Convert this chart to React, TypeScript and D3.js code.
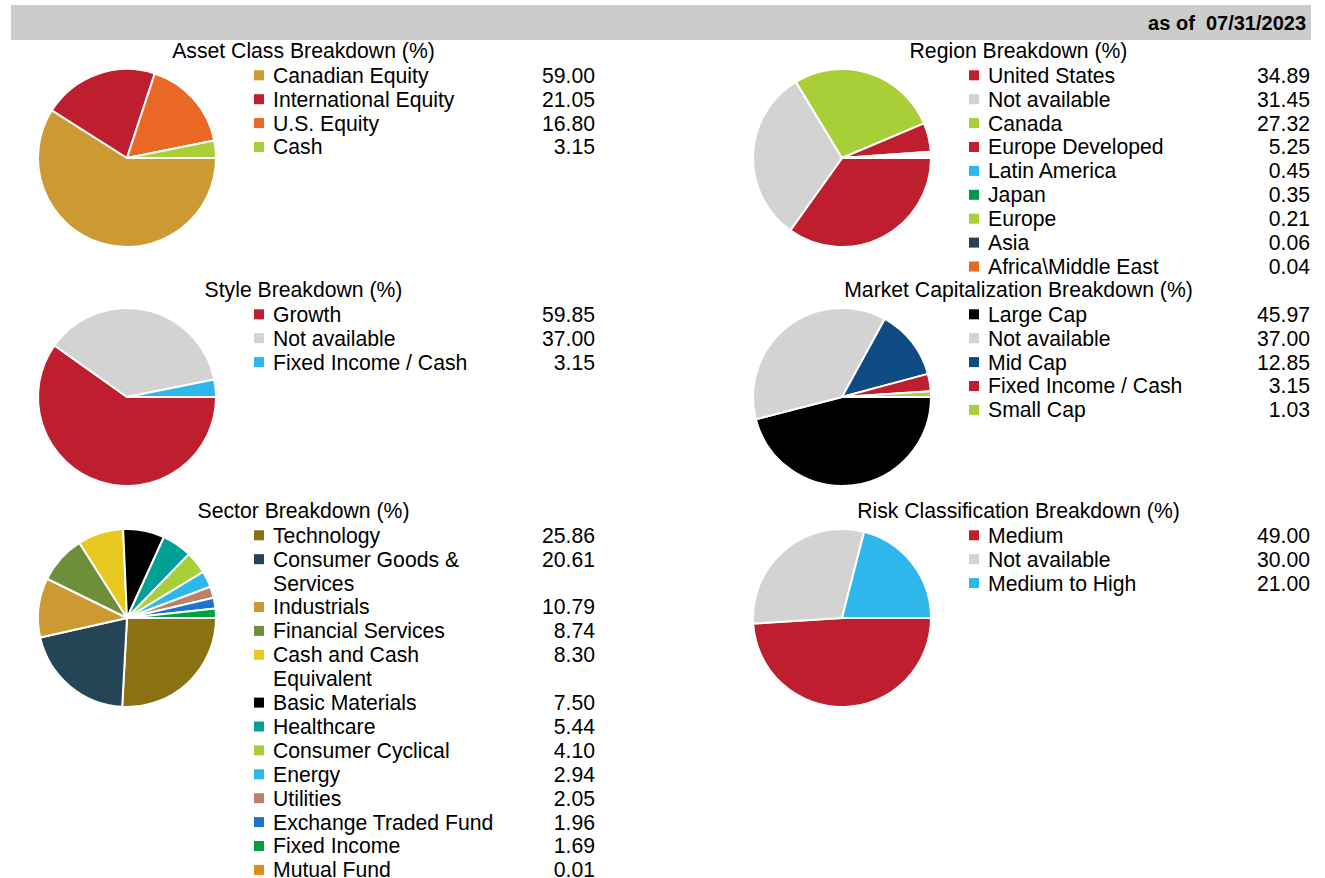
import React from "react";
import * as d3 from "d3";

// ---- data ----
const asOfDate = "07/31/2023";

const assetLabels = ["Canadian Equity", "International Equity", "U.S. Equity", "Cash"];
const assetValues = [59.0, 21.05, 16.8, 3.15];
const assetColors = ["#cc9933", "#be1e2d", "#e86824", "#a9cf38"];

const regionLabels = [
  "United States",
  "Not available",
  "Canada",
  "Europe Developed",
  "Latin America",
  "Japan",
  "Europe",
  "Asia",
  "Africa\\Middle East",
];
const regionValues = [34.89, 31.45, 27.32, 5.25, 0.45, 0.35, 0.21, 0.06, 0.04];
const regionColors = ["#be1e2d", "#d3d3d3", "#a9cf38", "#be1e2d", "#2db7ea", "#009a3e", "#a9cf38", "#22445a", "#e86824"];

const styleLabels = ["Growth", "Not available", "Fixed Income / Cash"];
const styleValues = [59.85, 37.0, 3.15];
const styleColors = ["#be1e2d", "#d3d3d3", "#2db7ea"];

const capLabels = ["Large Cap", "Not available", "Mid Cap", "Fixed Income / Cash", "Small Cap"];
const capValues = [45.97, 37.0, 12.85, 3.15, 1.03];
const capColors = ["#000000", "#d3d3d3", "#104a85", "#be1e2d", "#a9cf38"];

const sectorLabels = [
  "Technology",
  "Consumer Goods & Services",
  "Industrials",
  "Financial Services",
  "Cash and Cash Equivalent",
  "Basic Materials",
  "Healthcare",
  "Consumer Cyclical",
  "Energy",
  "Utilities",
  "Exchange Traded Fund",
  "Fixed Income",
  "Mutual Fund",
];
const sectorValues = [25.86, 20.61, 10.79, 8.74, 8.3, 7.5, 5.44, 4.1, 2.94, 2.05, 1.96, 1.69, 0.01];
const sectorColors = [
  "#8a7212", "#234556", "#cc9933", "#6e8f3a", "#e8c920", "#000000",
  "#00a096", "#a9cf38", "#2db7ea", "#bc8068", "#1874cd", "#00a03c", "#d9901a",
];

const riskLabels = ["Medium", "Not available", "Medium to High"];
const riskValues = [49.0, 30.0, 21.0];
const riskColors = ["#be1e2d", "#d3d3d3", "#2db7ea"];

// ---- layout ----
const W = 1325;
const H = 878;
const FONT = "Liberation Sans, Arial, sans-serif";
const FS = 21.2;
const LINE = 23.9;
const radius = 89;
const panelW = 585;
const wrapWidth = 235;

let ctx: CanvasRenderingContext2D | null = null;
const measure = (s: string) => {
  if (!ctx) {
    ctx = document.createElement("canvas").getContext("2d");
    if (ctx) ctx.font = `${FS}px Liberation Sans`;
  }
  return ctx ? ctx.measureText(s).width : s.length * 11;
};

const wrap = (label: string) => {
  const words = label.split(" ");
  const lines: string[] = [];
  let cur = "";
  words.forEach(w => {
    const t = cur ? cur + " " + w : w;
    if (cur && measure(t) > wrapWidth) {
      lines.push(cur);
      cur = w;
    } else cur = t;
  });
  lines.push(cur);
  return lines;
};

type PanelProps = {
  x: number;
  y: number;
  title: string;
  labels: string[];
  values: number[];
  colors: string[];
};

const Panel = ({ x, y, title, labels, values, colors }: PanelProps) => {
  const pie = d3
    .pie<number>()
    .sort(null)
    .startAngle(Math.PI / 2)
    .endAngle(Math.PI / 2 + 2 * Math.PI);
  const arc = d3.arc<d3.PieArcDatum<number>>().innerRadius(0).outerRadius(radius);
  const arcs = pie(values);

  let line = 0;
  const items = labels.map((l, i) => {
    const lines = wrap(l);
    const start = line;
    line += lines.length;
    return { lines, start, i };
  });

  return (
    <g transform={`translate(${x},${y})`}>
      <text x={panelW / 2} y={7} textAnchor="middle" fontSize={FS} fontFamily={FONT} fill="#000">
        {title}
      </text>
      <g transform={`translate(116,${107})`}>
        {arcs.map((a, i) => (
          <path key={i} d={arc(a) || ""} fill={colors[i]} stroke="#fff" strokeWidth={2} strokeLinejoin="round" />
        ))}
      </g>
      {items.map(it => {
        const cy = 24.3 + it.start * LINE;
        return (
          <g key={it.i}>
            <rect x={243} y={cy - 5} width={10} height={10} fill={colors[it.i]} />
            {it.lines.map((t, k) => (
              <text
                key={k}
                x={262}
                y={cy + 7.4 + k * LINE}
                fontSize={FS}
                fontFamily={FONT}
                fill="#000"
              >
                {t}
              </text>
            ))}
            <text x={584} y={cy + 7.4} textAnchor="end" fontSize={FS} fontFamily={FONT} fill="#000">
              {d3.format(".2f")(values[it.i])}
            </text>
          </g>
        );
      })}
    </g>
  );
};

const App = () => {
  return (
    <svg
      width={W}
      height={H}
      style={{ position: "absolute", left: 0, top: 0, background: "#fff" }}
    >
      <rect x={11} y={5} width={1300} height={35} fill="#cccccc" />
      <text
        x={1306}
        y={29.5}
        textAnchor="end"
        fontSize={20}
        fontWeight="bold"
        fontFamily={FONT}
        fill="#000"
        style={{ whiteSpace: "pre" }}
      >
        {"as of  " + asOfDate}
      </text>
      <Panel x={11} y={51} title="Asset Class Breakdown (%)" labels={assetLabels} values={assetValues} colors={assetColors} />
      <Panel x={726} y={51} title="Region Breakdown (%)" labels={regionLabels} values={regionValues} colors={regionColors} />
      <Panel x={11} y={290} title="Style Breakdown (%)" labels={styleLabels} values={styleValues} colors={styleColors} />
      <Panel x={726} y={290} title="Market Capitalization Breakdown (%)" labels={capLabels} values={capValues} colors={capColors} />
      <Panel x={11} y={511} title="Sector Breakdown (%)" labels={sectorLabels} values={sectorValues} colors={sectorColors} />
      <Panel x={726} y={511} title="Risk Classification Breakdown (%)" labels={riskLabels} values={riskValues} colors={riskColors} />
    </svg>
  );
};

export default App;
